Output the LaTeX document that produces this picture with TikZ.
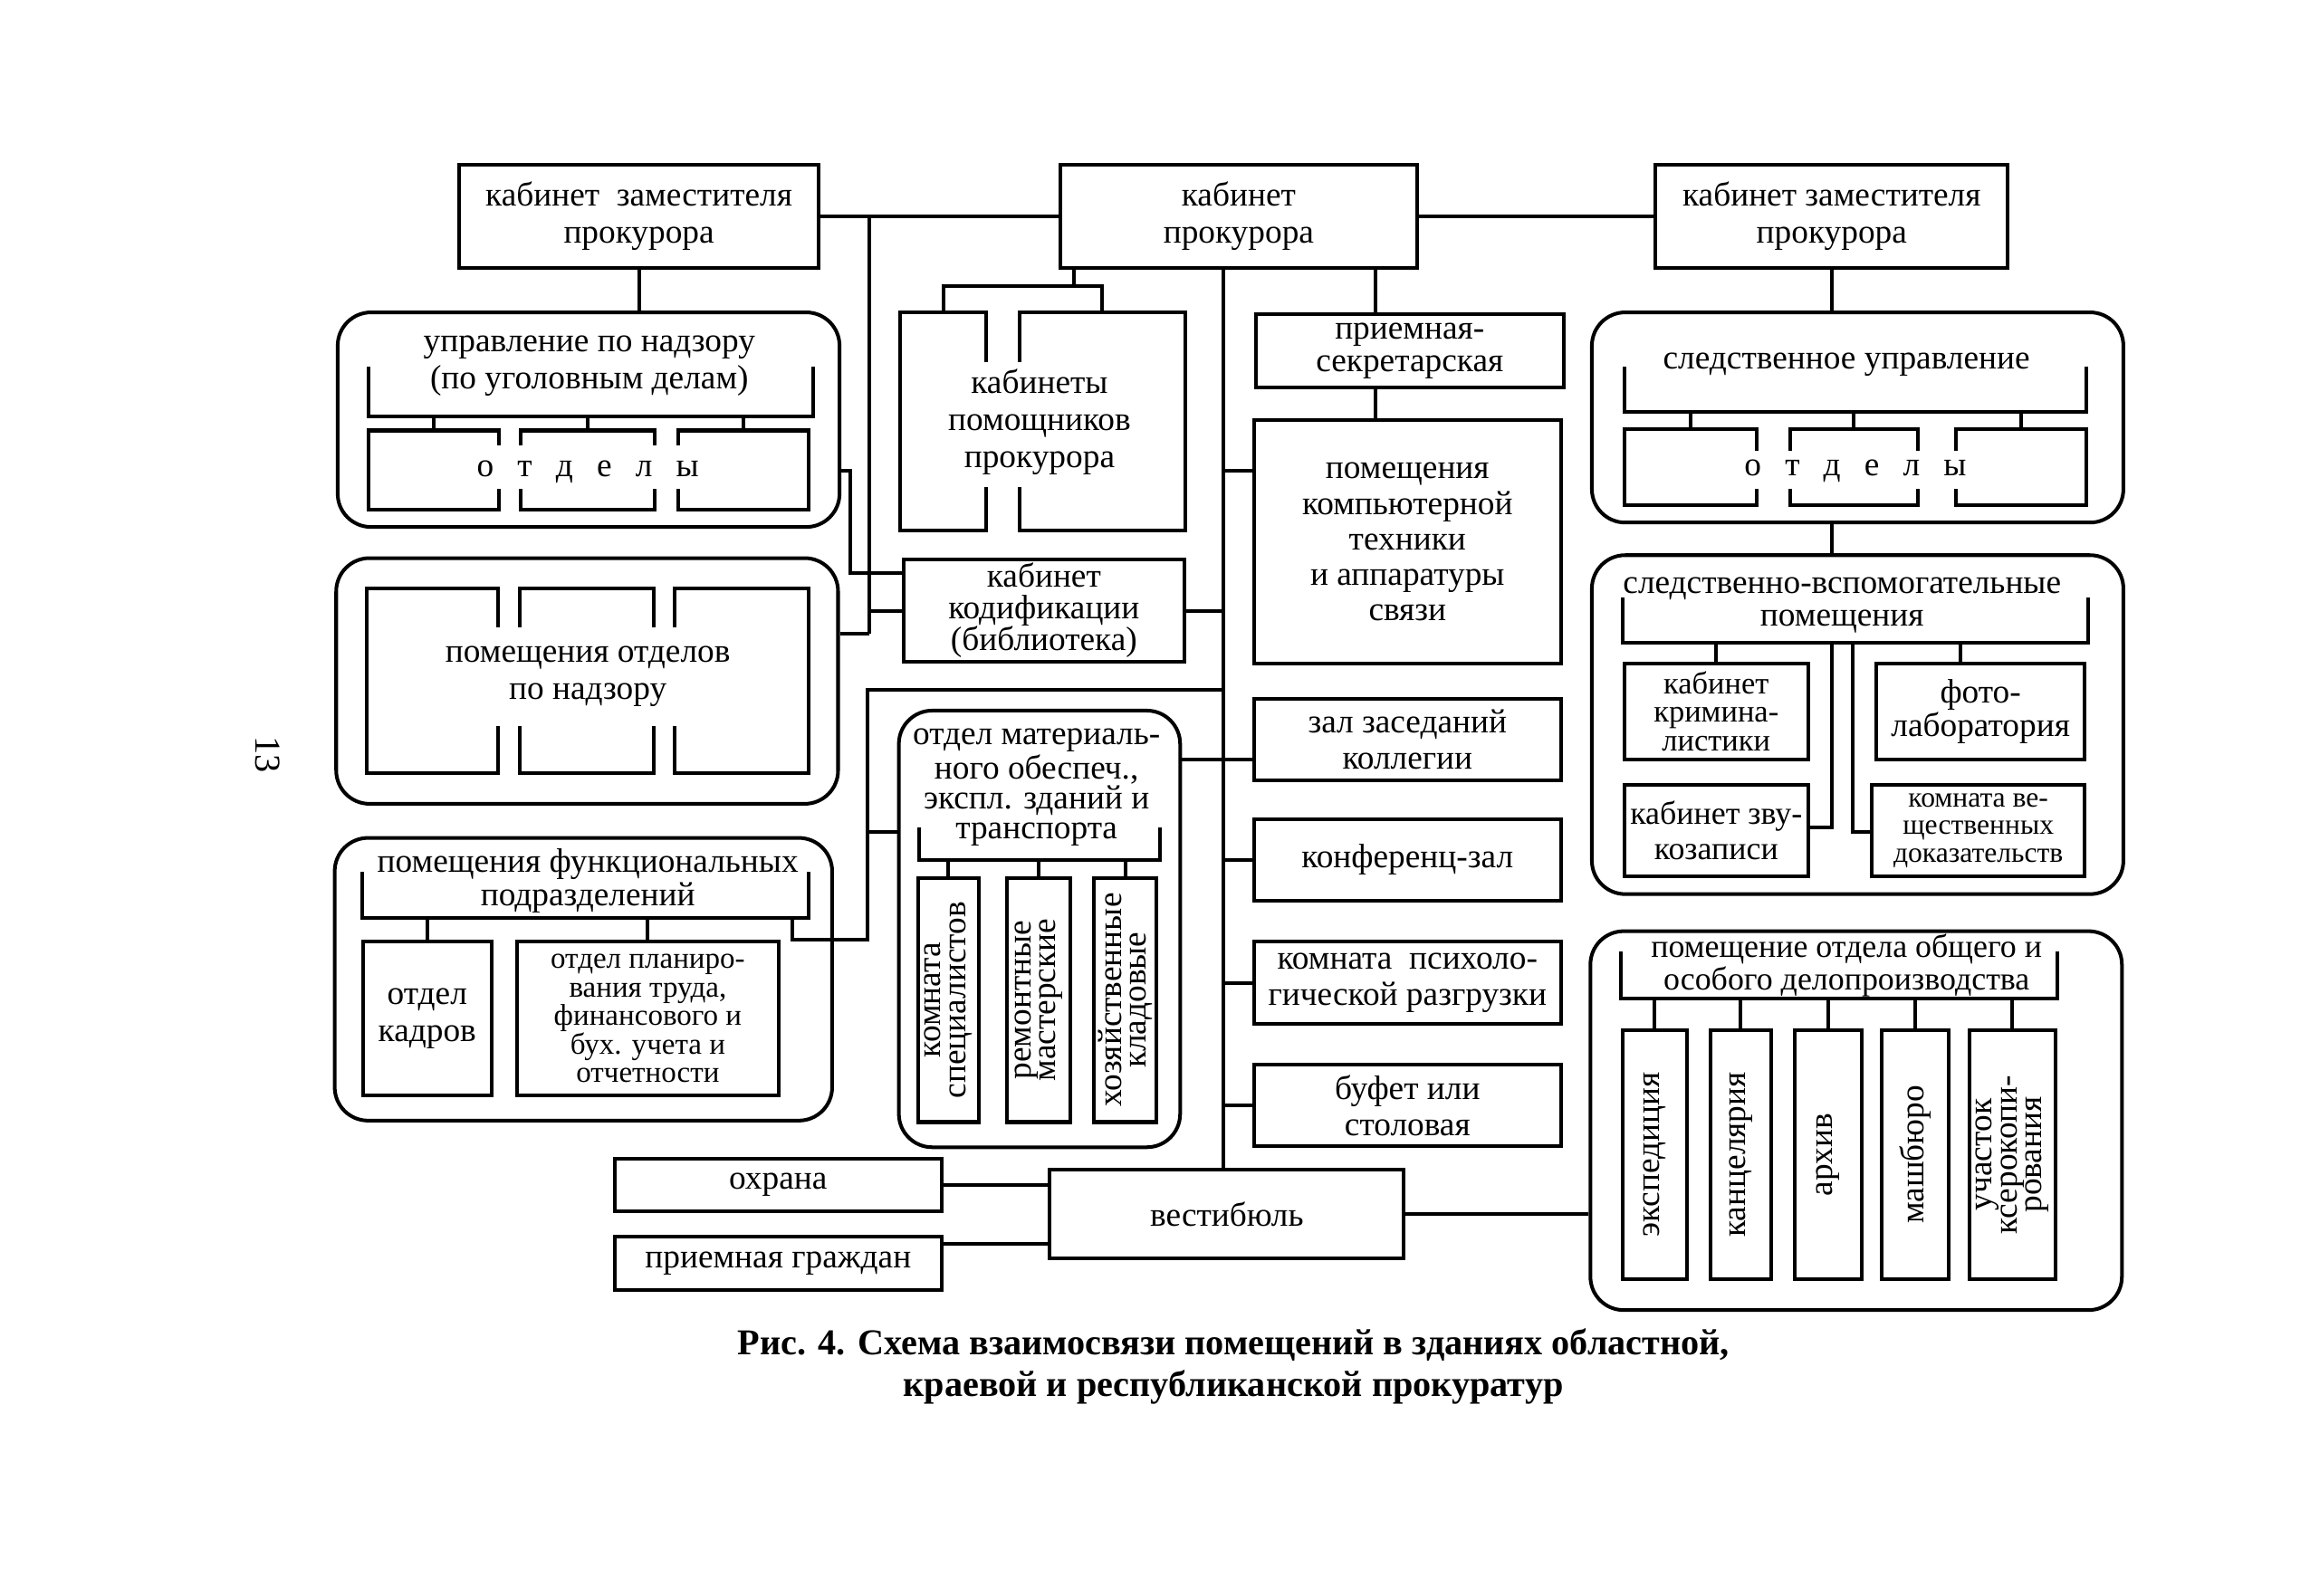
\documentclass[tikz,border=0pt]{standalone}
\usepackage{fontspec}
\setmainfont{Liberation Serif}
\usetikzlibrary{calc,positioning}

\begin{document}
\begin{tikzpicture}[x=0.02cm, y=-0.02cm, line width=1.4pt,
	box/.style={draw, rectangle, align=center, inner sep=1pt, font=\fontsize{13}{14.2}\selectfont},
	rbox/.style={draw, rectangle, rounded corners=0.45cm},
	room/.style={rectangle, inner sep=0pt},
	txt/.style={align=center, inner sep=0pt, font=\fontsize{13}{14.2}\selectfont},
	vtxt/.style={align=center, inner sep=0pt, rotate=90, font=\fontsize{13}{9.6}\selectfont}]
			\useasboundingbox (0,0) rectangle (1560,1078);

			% Nodes: top row
			\node[box, minimum width=4.86cm, minimum height=1.40cm] (zaml) at (431.5,146) {кабинет\ \ заместителя\\прокурора};
			\node[box, minimum width=4.82cm, minimum height=1.40cm] (prok) at (836.5,146) {кабинет\\прокурора};
			\node[box, minimum width=4.76cm, minimum height=1.40cm] (zamr) at (1237,146) {кабинет заместителя\\прокурора};

			% Nodes: left column
			\node[rbox, minimum width=6.78cm, minimum height=2.90cm] (upr) at (397.5,283.5) {};
			\node[txt] (uprtxt) at (398,247) {управление по надзору\\(по уголовным делам)};
			\node[room, minimum width=5.96cm, minimum height=0.62cm] (uprbr) at (399,264.5) {};
			\node[room, minimum width=1.72cm, minimum height=1.02cm] (upra) at (293,317.5) {};
			\node[room, minimum width=1.76cm, minimum height=1.02cm] (uprb) at (397,317.5) {};
			\node[room, minimum width=1.72cm, minimum height=1.02cm] (uprc) at (502,317.5) {};
			\node[txt] (uprot) at (397,319) {о\hspace{0.7em}т\hspace{0.7em}д\hspace{0.7em}е\hspace{0.7em}л\hspace{0.7em}ы};

			\node[rbox, minimum width=6.78cm, minimum height=3.32cm] (pomotd) at (396.5,460) {};
			\node[room, minimum width=1.72cm, minimum height=2.44cm] (pota) at (292,460) {};
			\node[room, minimum width=1.76cm, minimum height=2.44cm] (potb) at (396,460) {};
			\node[room, minimum width=1.76cm, minimum height=2.44cm] (potc) at (501,460) {};
			\node[txt] (pottxt) at (397,457) {помещения отделов\\по надзору};

			\node[rbox, minimum width=6.72cm, minimum height=3.82cm] (func) at (394,661.5) {};
			\node[txt, font=\fontsize{13}{11.6}\selectfont] (functxt) at (397,595) {помещения функциональных\\подразделений};
			\node[room, minimum width=5.98cm, minimum height=0.58cm] (funcbr) at (395.5,604.5) {};
			\node[box, minimum width=1.74cm, minimum height=2.08cm] (kadry) at (288.5,688) {отдел\\кадров};
			\node[box, minimum width=3.54cm, minimum height=2.08cm, font=\fontsize{11.5}{11}\selectfont] (plan) at (437.5,688) {отдел планиро-\\вания труда,\\финансового и\\бух. учета и\\отчетности};

			% Nodes: middle column
			\node[room, minimum width=1.12cm, minimum height=2.90cm] (assl) at (637,284.5) {};
			\node[room, minimum width=2.18cm, minimum height=2.90cm] (assr) at (744.5,284.5) {};
			\node[txt] (asstxt) at (702,285) {кабинеты\\помощников\\прокурора};
			\node[box, minimum width=3.80cm, minimum height=1.38cm, font=\fontsize{13}{12.2}\selectfont] (kodif) at (705,412.5) {кабинет\\кодификации\\(библиотека)};

			\node[rbox, minimum width=3.80cm, minimum height=5.90cm] (otdmat) at (702,627.5) {};
			\node[txt, font=\fontsize{13}{11.6}\selectfont] (otdtxt) at (700,532) {отдел материаль-\\ного обеспеч.,\\экспл. зданий и\\транспорта};
			\node[room, minimum width=3.20cm, minimum height=0.40cm] (otdbr) at (702,570) {};
			\node[box, minimum width=0.82cm, minimum height=3.30cm] (oma) at (640.5,675.5) {};
			\node[box, minimum width=0.86cm, minimum height=3.30cm] (omb) at (701.5,675.5) {};
			\node[box, minimum width=0.84cm, minimum height=3.30cm] (omc) at (760,675.5) {};
			\node[vtxt] at (oma) {комната\\специалистов};
			\node[vtxt] at (omb) {ремонтные\\мастерские};
			\node[vtxt] at (omc) {хозяйственные\\кладовые};

			\node[box, minimum width=4.16cm, minimum height=1.00cm, font=\fontsize{13}{12.6}\selectfont] (priem) at (952,237) {приемная-\\секретарская};
			\node[box, minimum width=4.14cm, minimum height=3.28cm, font=\fontsize{13}{13.6}\selectfont] (pomkomp) at (950.5,366) {помещения\\компьютерной\\техники\\и аппаратуры\\связи};
			\node[box, minimum width=4.14cm, minimum height=1.10cm] (zal) at (950.5,499.5) {зал заседаний\\коллегии};
			\node[box, minimum width=4.14cm, minimum height=1.10cm, below=0.48cm of zal] (konf) {конференц-зал};
			\node[box, minimum width=4.14cm, minimum height=1.12cm, below=0.50cm of konf] (psych) {комната\ \ психоло-\\гической разгрузки};
			\node[box, minimum width=4.14cm, minimum height=1.10cm, below=0.50cm of psych] (bufet) {буфет или\\столовая};

			% Nodes: right column
			\node[rbox, minimum width=7.18cm, minimum height=2.84cm] (sled) at (1254.5,282) {};
			\node[txt] (sledtxt) at (1247,246) {следственное управление};
			\node[room, minimum width=6.20cm, minimum height=0.56cm] (sledbr) at (1253,263) {};
			\node[room, minimum width=1.74cm, minimum height=0.98cm] (sleda) at (1141.5,315.5) {};
			\node[room, minimum width=1.68cm, minimum height=0.98cm] (sledb) at (1252,315.5) {};
			\node[room, minimum width=1.72cm, minimum height=0.98cm] (sledc) at (1365,315.5) {};
			\node[txt] (sledot) at (1253,318) {о\hspace{0.7em}т\hspace{0.7em}д\hspace{0.7em}е\hspace{0.7em}л\hspace{0.7em}ы};

			\node[rbox, minimum width=7.18cm, minimum height=4.58cm] (aux) at (1254.5,489.5) {};
			\node[txt, font=\fontsize{13}{12.4}\selectfont] (auxtxt) at (1244,409) {следственно-вспомогательные\\помещения};
			\node[room, minimum width=6.24cm, minimum height=0.56cm] (auxbr) at (1253,419) {};
			\node[box, minimum width=2.48cm, minimum height=1.30cm, font=\fontsize{12}{11}\selectfont] (krim) at (1159,480.5) {кабинет\\кримина-\\листики};
			\node[box, minimum width=2.82cm, minimum height=1.30cm, font=\fontsize{13}{13}\selectfont] (foto) at (1337.5,480.5) {фото-\\лаборатория};
			\node[box, minimum width=2.48cm, minimum height=1.24cm, font=\fontsize{12.5}{13.4}\selectfont] (zvuk) at (1159,561) {кабинет зву-\\козаписи};
			\node[box, minimum width=2.88cm, minimum height=1.24cm, font=\fontsize{11}{10.6}\selectfont] (veshch) at (1336,561) {комната ве-\\щественных\\доказательств};

			\node[rbox, minimum width=7.18cm, minimum height=5.12cm] (delo) at (1253.5,757) {};
			\node[txt, font=\fontsize{12.5}{11}\selectfont] (delotxt) at (1247,652) {помещение отдела общего и\\особого делопроизводства};
			\node[room, minimum width=5.84cm, minimum height=0.58cm] (delobr) at (1242,658.5) {};
			\node[box, minimum width=0.86cm, minimum height=3.36cm] (dela) at (1117.5,780) {};
			\node[box, minimum width=0.82cm, minimum height=3.36cm] (delb) at (1175.5,780) {};
			\node[box, minimum width=0.90cm, minimum height=3.36cm] (delc) at (1234.5,780) {};
			\node[box, minimum width=0.90cm, minimum height=3.36cm] (deld) at (1293.5,780) {};
			\node[box, minimum width=1.16cm, minimum height=3.36cm] (dele) at (1359,780) {};
			\node[vtxt] at (dela) {экспедиция};
			\node[vtxt] at (delb) {канцелярия};
			\node[vtxt] at (delc) {архив};
			\node[vtxt] at (deld) {машбюро};
			\node[vtxt] at (dele) {участок\\ксерокопи-\\рования};

			% Nodes: bottom row
			\node[box, minimum width=4.78cm, minimum height=1.20cm] (vest) at (828.5,820) {вестибюль};
			\node[box, minimum width=4.42cm, minimum height=0.70cm] (ohrana) at (525.5,800.5) {охрана};
			\node[box, minimum width=4.42cm, minimum height=0.72cm, below=0.30cm of ohrana] (prgr) {приемная граждан};

			\node[align=center, font=\fontsize{14}{16}\selectfont\bfseries] (cap) at (833,923) {Рис. 4. Схема взаимосвязи помещений в зданиях областной,\\краевой и республиканской прокуратур};
			\node[rotate=-90, font=\fontsize{14}{16}\selectfont] (pnum) at (181,510) {13};

			% Brackets
			\draw (uprbr.north west) |- (uprbr.south east) -- (uprbr.north east);
			\draw (funcbr.north west) |- (funcbr.south east) -- (funcbr.north east);
			\draw (otdbr.north west) |- (otdbr.south east) -- (otdbr.north east);
			\draw (sledbr.north west) |- (sledbr.south east) -- (sledbr.north east);
			\draw (auxbr.north west) |- (auxbr.south east) -- (auxbr.north east);
			\draw (delobr.north west) |- (delobr.south east) -- (delobr.north east);

			% Open rooms
			\draw ($(upra.north east)+(0,10)$) -- (upra.north east) -- (upra.north west) -- (upra.south west) -- (upra.south east) -- ($(upra.south east)+(0,-14)$);
			\draw ($(uprb.north west)+(0,10)$) -- (uprb.north west) -- (uprb.north east) -- ($(uprb.north east)+(0,10)$);
			\draw ($(uprb.south west)+(0,-14)$) -- (uprb.south west) -- (uprb.south east) -- ($(uprb.south east)+(0,-14)$);
			\draw ($(uprc.north west)+(0,10)$) -- (uprc.north west) -- (uprc.north east) -- (uprc.south east) -- (uprc.south west) -- ($(uprc.south west)+(0,-14)$);

			\draw ($(pota.north east)+(0,26)$) -- (pota.north east) -- (pota.north west) -- (pota.south west) -- (pota.south east) -- ($(pota.south east)+(0,-32)$);
			\draw ($(potb.north west)+(0,26)$) -- (potb.north west) -- (potb.north east) -- ($(potb.north east)+(0,26)$);
			\draw ($(potb.south west)+(0,-32)$) -- (potb.south west) -- (potb.south east) -- ($(potb.south east)+(0,-32)$);
			\draw ($(potc.north west)+(0,26)$) -- (potc.north west) -- (potc.north east) -- (potc.south east) -- (potc.south west) -- ($(potc.south west)+(0,-32)$);

			\draw ($(sleda.north east)+(0,15)$) -- (sleda.north east) -- (sleda.north west) -- (sleda.south west) -- (sleda.south east) -- ($(sleda.south east)+(0,-11)$);
			\draw ($(sledb.north west)+(0,15)$) -- (sledb.north west) -- (sledb.north east) -- ($(sledb.north east)+(0,15)$);
			\draw ($(sledb.south west)+(0,-11)$) -- (sledb.south west) -- (sledb.south east) -- ($(sledb.south east)+(0,-11)$);
			\draw ($(sledc.north west)+(0,15)$) -- (sledc.north west) -- (sledc.north east) -- (sledc.south east) -- (sledc.south west) -- ($(sledc.south west)+(0,-11)$);

			\draw ($(assl.north east)+(0,34)$) -- (assl.north east) -- (assl.north west) -- (assl.south west) -- (assl.south east) -- ($(assl.south east)+(0,-29)$);
			\draw ($(assr.north west)+(0,34)$) -- (assr.north west) -- (assr.north east) -- (assr.south east) -- (assr.south west) -- ($(assr.south west)+(0,-29)$);

			% Ticks inside groups
			\draw (upra.north) -- (upra.north |- uprbr.south);
			\draw (uprb.north) -- (uprb.north |- uprbr.south);
			\draw (uprc.north) -- (uprc.north |- uprbr.south);
			\draw (sleda.north) -- (sleda.north |- sledbr.south);
			\draw (sledb.north) -- (sledb.north |- sledbr.south);
			\draw (sledc.north) -- (sledc.north |- sledbr.south);
			\draw (kadry.north) -- (kadry.north |- funcbr.south);
			\draw (plan.north) -- (plan.north |- funcbr.south);
			\draw (oma.north) -- (oma.north |- otdbr.south);
			\draw (omb.north) -- (omb.north |- otdbr.south);
			\draw (omc.north) -- (omc.north |- otdbr.south);
			\draw (dela.north) -- (dela.north |- delobr.south);
			\draw (delb.north) -- (delb.north |- delobr.south);
			\draw (delc.north) -- (delc.north |- delobr.south);
			\draw (deld.north) -- (deld.north |- delobr.south);
			\draw (dele.north) -- (dele.north |- delobr.south);
			\draw (krim.north) -- (krim.north |- auxbr.south);
			\coordinate (fa) at (1324,0);
			\draw (foto.north -| fa) -- (auxbr.south -| fa);
			\coordinate (za) at (1237,559);
			\draw (auxbr.south -| za) -- (za) -- (zvuk.east |- za);
			\coordinate (va) at (1251,562);
			\draw (auxbr.south -| va) -- (va) -- (veshch.west |- va);

			% Lines
			\draw (zaml) -- (prok);
			\draw (prok) -- (zamr);
			\draw (zaml.south) -- (zaml.south |- upr.north);
			\draw (zamr.south) -- (zamr.south |- sled.north);
			\draw (sled.south -| zamr.south) -- (aux.north -| zamr.south);

			\coordinate (jl) at (587,146);
			\coordinate (jk) at (587,428);
			\coordinate (kb) at (587,413);
			\draw (jl) -- (jk);
			\draw (kb) -- (kodif.west |- kb);
			\draw (pomotd.east |- jk) -- (jk);
			\coordinate (ka) at (574,318);
			\coordinate (kc) at (574,387);
			\draw (upr.east |- ka) -- (ka) |- (kodif.west |- kc);

			\coordinate (pa) at (725,193);
			\draw (prok.south -| pa) -- (pa);
			\draw (assl.north) |- (pa) -| (assr.north);

			\coordinate (tp) at (929,0);
			\draw (prok.south -| tp) -- (priem.north -| tp);
			\draw (priem.south -| tp) -- (pomkomp.north -| tp);

			\coordinate (tr) at (826,0);
			\draw (prok.south -| tr) -- (vest.north -| tr);
			\coordinate (tk) at (826,318);
			\draw (tk) -- (pomkomp.west |- tk);
			\draw (kodif.east) -- (kodif.east -| tr);
			\coordinate (tz) at (826,513);
			\draw (otdmat.east |- tz) -- (zal.west |- tz);
			\draw (konf.west -| tr) -- (konf.west);
			\draw (psych.west -| tr) -- (psych.west);
			\draw (bufet.west -| tr) -- (bufet.west);

			\coordinate (ma) at (586,466);
			\coordinate (mb) at (586,635);
			\coordinate (mc) at (535,635);
			\coordinate (md) at (586,562);
			\draw (ma -| tr) -- (ma) -- (mb) -- (mc) -- (mc |- funcbr.south);
			\draw (md) -- (otdmat.west |- md);

			\draw (vest) -- (delo.west |- vest);
			\draw (ohrana.east) -- (vest.west |- ohrana.east);
			\coordinate (pg) at (636,840);
			\draw (prgr.east |- pg) -- (vest.west |- pg);
\end{tikzpicture}
\end{document}
